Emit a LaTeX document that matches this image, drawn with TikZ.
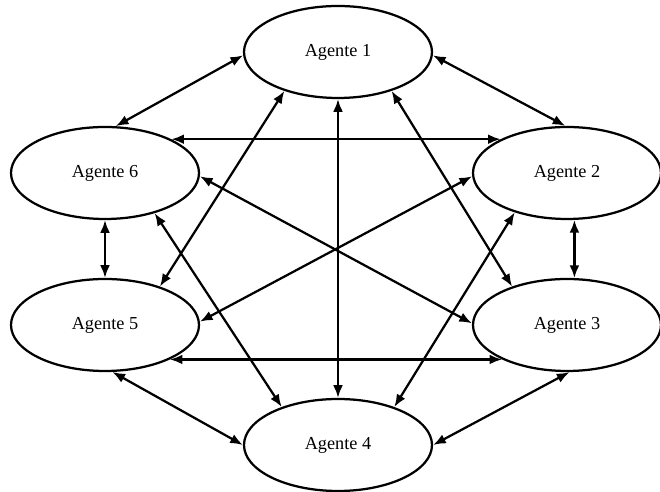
\documentclass[tikz,border=0pt]{standalone}
\usepackage{fontspec}
\setmainfont{Liberation Serif}
\usetikzlibrary{shapes.geometric,arrows.meta}

\tikzset{
    agent/.style={draw, ellipse, line width=1.6pt, minimum width=4.7cm, minimum height=2.3cm,
        inner sep=0pt, font=\fontsize{13}{15}\selectfont},
    link/.style={{Latex[length=9pt,width=7pt]}-{Latex[length=9pt,width=7pt]}, line width=1.6pt}
}

\begin{document}
\begin{tikzpicture}[scale=1]
    \useasboundingbox (0,0) rectangle (16.5,12.3);

    \node[agent] (a1) at (8.45,11.0) {Agente 1};
    \node[agent] (a2) at (14.175,7.975) {Agente 2};
    \node[agent] (a3) at (14.175,4.175) {Agente 3};
    \node[agent] (a4) at (8.45,1.175) {Agente 4};
    \node[agent] (a5) at (2.625,4.175) {Agente 5};
    \node[agent] (a6) at (2.625,7.975) {Agente 6};

    % Agente 1
    \draw[link] (a1.182) -- (a6.77);
    \draw[link] (a1.-2) -- (a2.92);
    \draw[link] (a1.216) -- (a5.35);
    \draw[link] (a1.270) -- (a4.90);
    \draw[link] (a1.324) -- (a3.145);

    % Agente 6 / Agente 2
    \draw[link] (a6.27) -- (a2.153);
    \draw[link] (a6.-2) -- (a3.179);
    \draw[link] (a6.321) -- (a4.146);
    \draw[link] (a6.270) -- (a5.90);
    \draw[link] (a2.182) -- (a5.2);
    \draw[link] (a2.217) -- (a4.34);
    \draw[link] (a2.279) -- (a3.81);

    % Agente 5 / Agente 3
    \draw[link] (a5.332) -- (a3.208);
    \draw[link] (a5.279) -- (a4.180);
    \draw[link] (a3.273) -- (a4.0);
\end{tikzpicture}
\end{document}
